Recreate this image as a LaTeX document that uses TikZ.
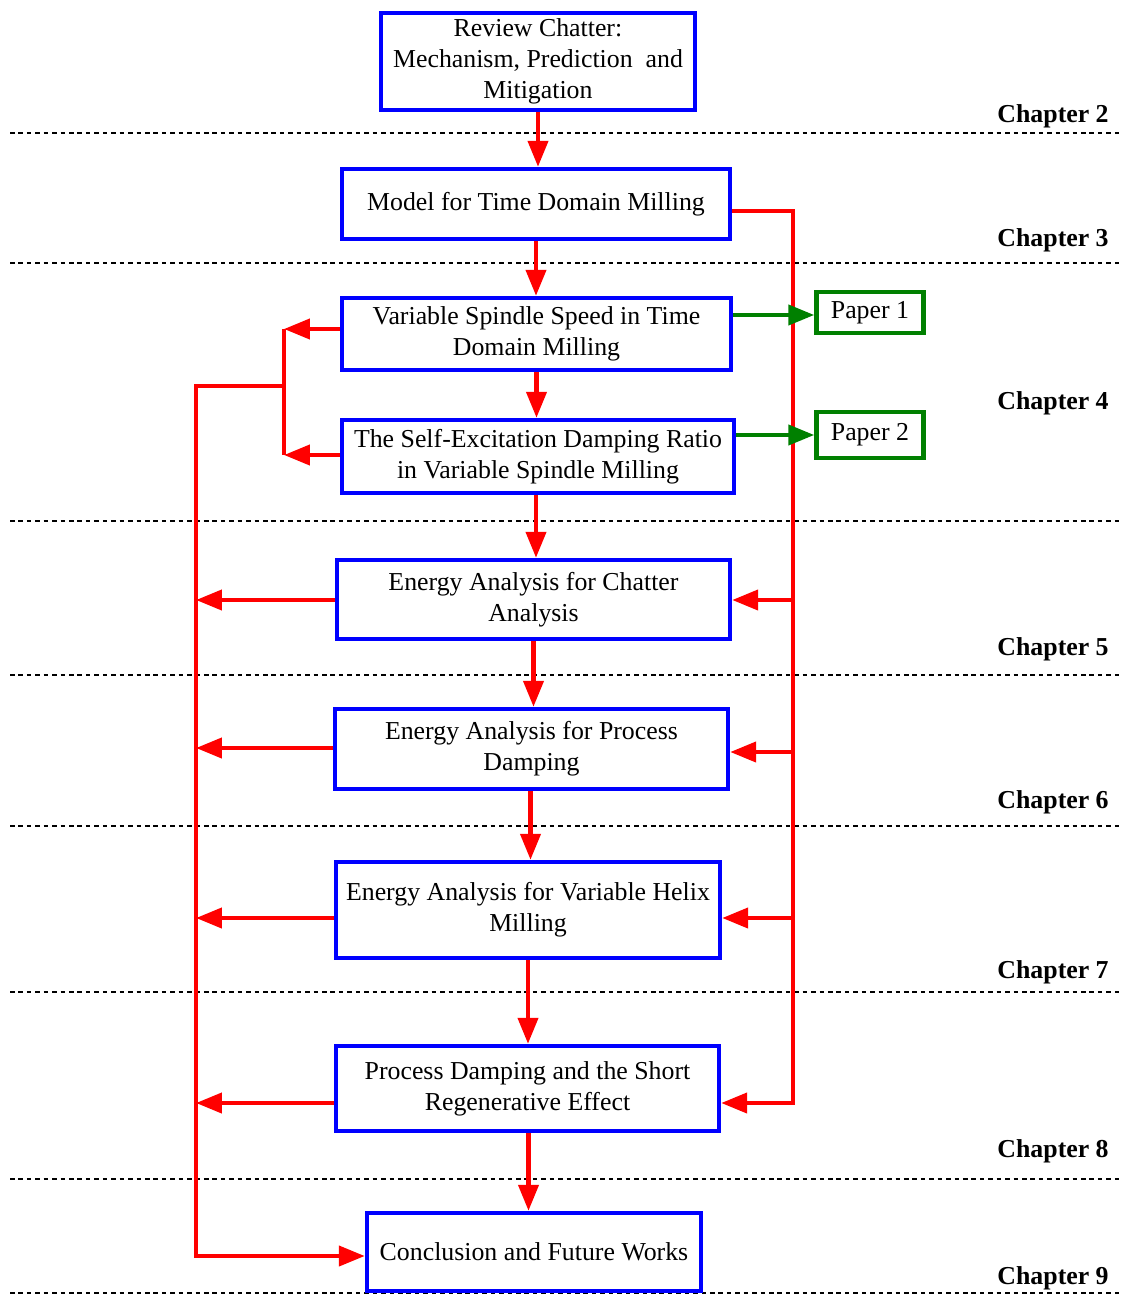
\documentclass[tikz,border=0pt]{standalone}
\usepackage{fontspec}
\setmainfont{Liberation Serif}
\usetikzlibrary{arrows.meta}
\definecolor{boxblue}{RGB}{0,0,255}
\definecolor{flowred}{RGB}{255,0,0}
\definecolor{papergreen}{RGB}{0,128,0}
\begin{document}
\begin{tikzpicture}[x=0.02cm,y=-0.02cm,
  chapbox/.style={draw=boxblue,line width=0.09cm,fill=white,align=center,
    inner sep=0pt,font=\fontsize{14.7}{17.6}\selectfont},
  paperbox/.style={draw=papergreen,line width=0.09cm,fill=white,align=center,
    inner sep=0pt,minimum width=2.14cm,font=\fontsize{14.7}{17.6}\selectfont},
  chaplabel/.style={anchor=base east,inner sep=0pt,
    font=\fontsize{14.7}{17.6}\selectfont\bfseries},
  divider/.style={black,line width=0.04cm,dash pattern=on 2.6pt off 2.2pt},
  redline/.style={flowred,line width=0.085cm},
  redarrow/.style={redline,-{Triangle[length=0.52cm,width=0.4cm]}},
  greenarrow/.style={papergreen,line width=0.085cm,-{Triangle[length=0.52cm,width=0.4cm]}}]
\useasboundingbox (0,0) rectangle (1125,1295);

% chapter dividers
\foreach \yy in {133,263,521,675,826,992,1179,1293}
  \draw[divider] (10,\yy) -- (1120,\yy);

% chapter labels
\node[chaplabel] (c2) at (1109,122) {Chapter 2};
\node[chaplabel] (c3) at (1109,246) {Chapter 3};
\node[chaplabel] (c4) at (1109,409) {Chapter 4};
\node[chaplabel] (c5) at (1109,655) {Chapter 5};
\node[chaplabel] (c6) at (1109,808) {Chapter 6};
\node[chaplabel] (c7) at (1109,978) {Chapter 7};
\node[chaplabel] (c8) at (1109,1157) {Chapter 8};
\node[chaplabel] (c9) at (1109,1284) {Chapter 9};

% bus coordinates
\coordinate (rt) at (793,211);
\coordinate (rb) at (793,1103);
\coordinate (r5) at (793,600);
\coordinate (r6) at (793,752);
\coordinate (r7) at (793,918);
\coordinate (la) at (284,329);
\coordinate (lb) at (284,455);
\coordinate (lc) at (284,386);
\coordinate (ld) at (196,386);
\coordinate (le) at (196,1256);
\coordinate (l5) at (196,600);
\coordinate (l6) at (196,748);
\coordinate (l7) at (196,918);
\coordinate (l8) at (196,1103);
\coordinate (g1) at (0,315);
\coordinate (g2) at (0,435);

% left buses drawn beneath the boxes
\draw[redline] (la) -- (lb);

% boxes
\node[chapbox,minimum width=6.28cm,minimum height=1.94cm] (m1) at (538,61.5)
  {Review Chatter:\\Mechanism, Prediction\ \ and\\Mitigation};
\node[chapbox,minimum width=7.76cm,minimum height=1.40cm] (m2) at (536,204)
  {Model for Time Domain Milling};
\node[chapbox,minimum width=7.78cm,minimum height=1.44cm] (m3) at (536.5,334)
  {Variable Spindle Speed in Time\\Domain Milling};
\node[chapbox,minimum width=7.84cm,minimum height=1.46cm] (m4) at (538,456.5)
  {The Self-Excitation Damping Ratio\\in Variable Spindle Milling};
\node[chapbox,minimum width=7.86cm,minimum height=1.58cm] (m5) at (533.5,599.5)
  {Energy Analysis for Chatter\\Analysis};
\node[chapbox,minimum width=7.86cm,minimum height=1.60cm] (m6) at (531.5,749)
  {Energy Analysis for Process\\Damping};
\node[chapbox,minimum width=7.68cm,minimum height=1.92cm] (m7) at (528,910)
  {Energy Analysis for Variable Helix\\Milling};
\node[chapbox,minimum width=7.66cm,minimum height=1.70cm] (m8) at (527.5,1088.5)
  {Process Damping and the Short\\Regenerative Effect};
\node[chapbox,minimum width=6.68cm,minimum height=1.56cm] (m9) at (534,1252)
  {Conclusion and Future Works};

\node[paperbox,minimum height=0.82cm] (p1) at (870,312.5) {Paper 1};
\node[paperbox,minimum height=0.92cm] (p2) at (870,435) {Paper 2};

% main sequence, each arrow straight down from the box above
\draw[redarrow] (m1.south) -- (m1.south |- m2.north);
\draw[redarrow] (m2.south) -- (m2.south |- m3.north);
\draw[redarrow] (m3.south) -- (m3.south |- m4.north);
\draw[redarrow] (m4.south) ++(-2,0) coordinate (s4) -- (s4 |- m5.north);
\draw[redarrow] (m5.south) -- (m5.south |- m6.north);
\draw[redarrow] (m6.south) ++(-1,0) coordinate (s6) -- (s6 |- m7.north);
\draw[redarrow] (m7.south) -- (m7.south |- m8.north);
\draw[redarrow] (m8.south) ++(1,0) coordinate (s8) -- (s8 |- m9.north);

% right-hand feed from the milling model
\draw[redarrow] (m2.east |- rt) -- (rt) -- (rb) -- (m8.east |- rb);
\draw[redarrow] (r5) -- (m5.east |- r5);
\draw[redarrow] (r6) -- (m6.east |- r6);
\draw[redarrow] (r7) -- (m7.east |- r7);

% left-hand collection into the conclusion
\draw[redarrow] (lc) -- (ld) -- (le) -- (m9.west |- le);
\draw[redarrow] (m3.west |- la) -- (la);
\draw[redarrow] (m4.west |- lb) -- (lb);
\draw[redarrow] (m5.west |- l5) -- (l5);
\draw[redarrow] (m6.west |- l6) -- (l6);
\draw[redarrow] (m7.west |- l7) -- (l7);
\draw[redarrow] (m8.west |- l8) -- (l8);

% publications
\draw[greenarrow] (m3.east |- g1) -- (p1.west |- g1);
\draw[greenarrow] (m4.east |- g2) -- (p2.west |- g2);
\end{tikzpicture}
\end{document}
